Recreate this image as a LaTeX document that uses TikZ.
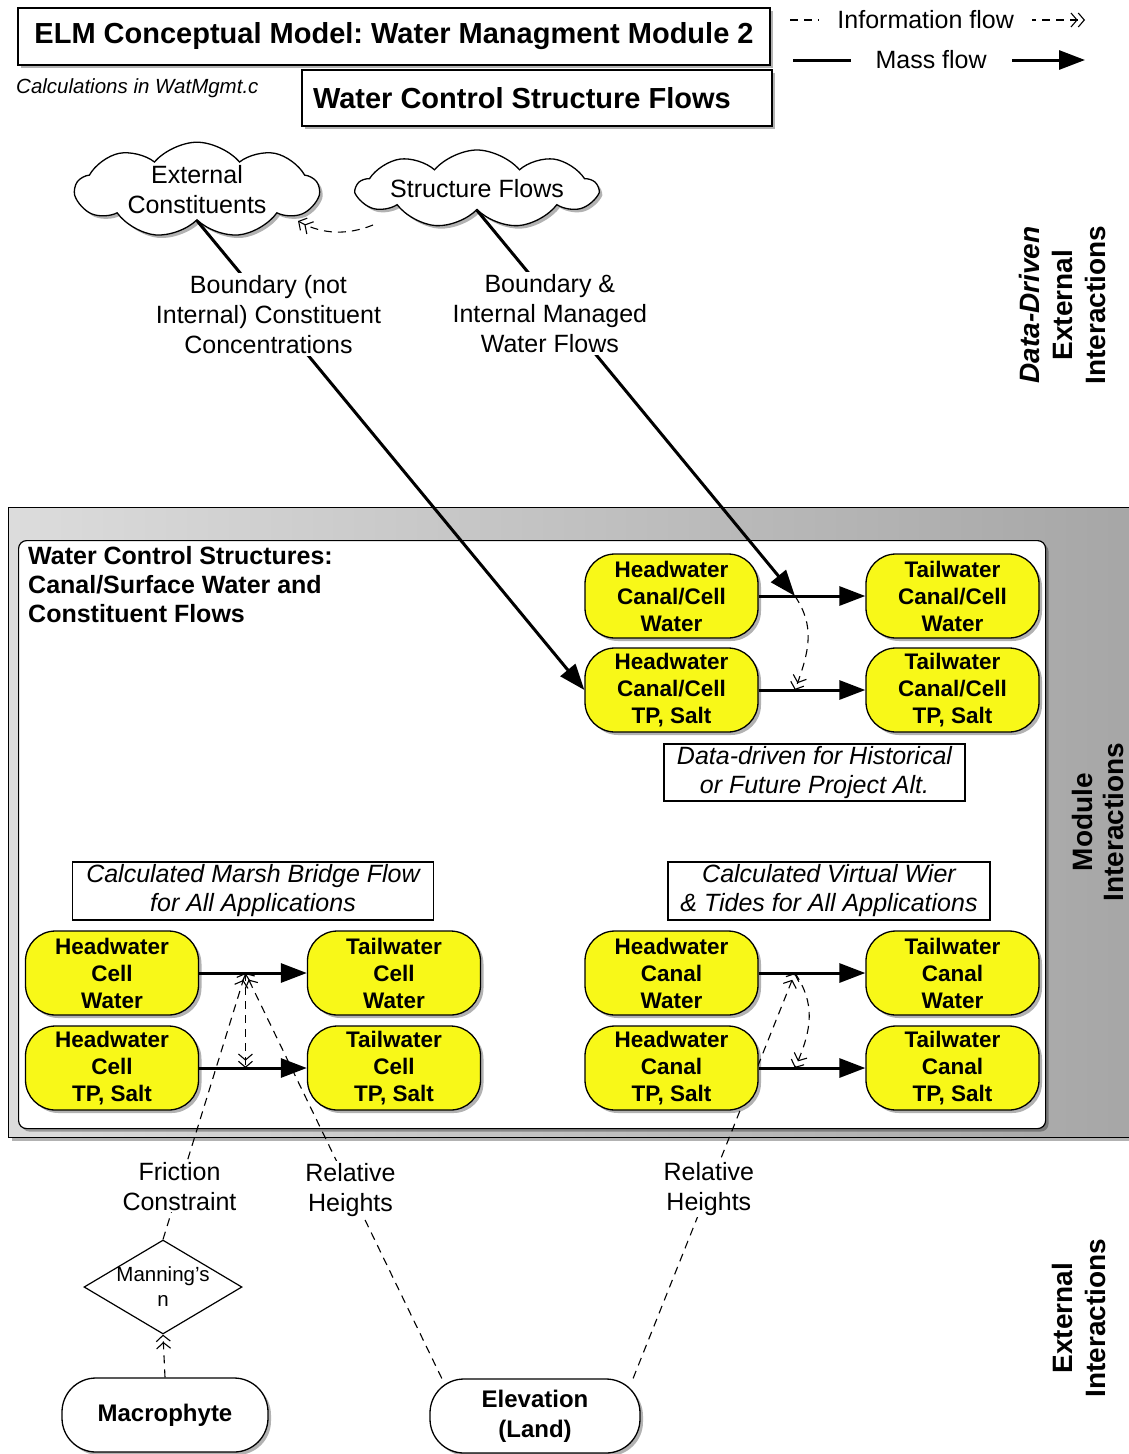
\documentclass[tikz,border=0pt]{standalone}
\usepackage{fontspec}
\setmainfont{Liberation Sans}
\usetikzlibrary{arrows.meta,shapes.geometric,shapes.symbols,shadows}
\pgfdeclarelayer{bg}
\pgfdeclarelayer{lines}
\pgfsetlayers{bg,lines,main}
\definecolor{nodeyellow}{RGB}{248,248,24}
\definecolor{modleft}{RGB}{220,220,220}
\definecolor{modright}{RGB}{166,166,166}
\frenchspacing
\begin{document}
\begin{tikzpicture}[x=1pt,y=-1pt,
  shadowed/.style={drop shadow={shadow xshift=3pt,shadow yshift=-3pt,opacity=0.3,fill=black}},
  box/.style={draw,line width=1.5,fill=white,inner sep=0,shadowed},
  yel/.style={draw,line width=1.3,fill=nodeyellow,rounded corners=30,minimum width=173,minimum height=84,
    align=center,inner sep=0,font=\bfseries\fontsize{22.5}{27}\selectfont,shadowed},
  ibox/.style={draw,line width=1.3,fill=white,align=center,inner sep=0,font=\itshape\fontsize{25}{29}\selectfont},
  cloudst/.style={cloud,cloud puffs=9,cloud puff arc=100,cloud ignores aspect,draw,line width=1.3,fill=white,
    align=center,inner sep=0,font=\fontsize{25}{30}\selectfont,shadowed},
  lbl/.style={fill=white,align=center,inner sep=2,font=\fontsize{25}{30}\selectfont},
  rlab/.style={rotate=90,align=center,font=\bfseries\fontsize{28}{33}\selectfont},
  term/.style={draw,line width=1.3,fill=white,rounded corners=34,minimum height=74,align=center,
    font=\bfseries\fontsize{24}{30}\selectfont,shadowed},
  mass/.style={line width=3,-{Triangle[length=26pt,width=19pt]}},
  info/.style={line width=1.1,dash pattern=on 8pt off 6pt,-{Straight Barb[length=6pt,width=14pt]Straight Barb[length=6pt,width=14pt]}},
]
\useasboundingbox (0,0) rectangle (1129,1454);

% ---------- module frame ----------
\begin{pgfonlayer}{bg}
\node[draw,line width=1.3,left color=modleft,right color=modright,minimum width=1130,minimum height=630,
  anchor=north west,inner sep=0,shadowed] (module) at (8,507) {};
\node[draw,line width=1.2,fill=white,rounded corners=8,minimum width=1027,minimum height=588,
  anchor=north west,inner sep=0,shadowed] (inner) at (18,540) {};
\end{pgfonlayer}

% ---------- header ----------
\node[box,minimum width=752,minimum height=57,font=\bfseries\fontsize{29}{34}\selectfont] (title) at (394,36.5)
  {ELM Conceptual Model: Water Managment Module 2};
\node[anchor=west,inner sep=0,font=\itshape\fontsize{20.5}{24}\selectfont] (calc) at (16,88) {Calculations in WatMgmt.c};
\node[box,minimum width=470,minimum height=56,font=\bfseries\fontsize{29}{34}\selectfont] (sub) at (537,98)
  {\makebox[448pt][l]{Water Control Structure Flows}};

% legend
\coordinate (li1) at (790,20);
\coordinate (li2) at (1085,20);
\coordinate (lm1) at (793,60);
\coordinate (lm2) at (1085,60);
\draw[info] (li1) -- node[pos=0.46,fill=white,inner xsep=18,inner ysep=2,font=\fontsize{25}{30}\selectfont] (litxt) {Information flow} (li2);
\draw[mass] (lm1) -- node[pos=0.473,fill=white,inner xsep=25,inner ysep=2,font=\fontsize{25}{30}\selectfont] (lmtxt) {Mass flow} (lm2);

% clouds
\node[cloudst,minimum width=243,minimum height=84] (ec) at (197,190) {External\\Constituents};
\node[cloudst,minimum width=240,minimum height=78] (sf) at (477,189) {Structure Flows};

% right side labels
\node[rlab] (ddlab) at (1062,305) {\textit{Data-Driven}\\External\\Interactions};
\node[rlab,font=\bfseries\fontsize{28}{31}\selectfont] (modlab) at (1098,822) {Module\\Interactions};
\node[rlab] (extlab) at (1079,1318) {External\\Interactions};

% inner heading
\node[anchor=west,align=left,inner sep=0,font=\bfseries\fontsize{25}{29}\selectfont] (wcs) at (28,585)
  {Water Control Structures:\\Canal/Surface Water and\\Constituent Flows};

% top-right group
\node[yel] (hw1) at (671.5,596) {Headwater\\Canal/Cell\\Water};
\node[yel] (tw1) at (952.5,596) {Tailwater\\Canal/Cell\\Water};
\node[yel] (hw2) at (671.5,690) {Headwater\\Canal/Cell\\TP, Salt};
\node[yel] (tw2) at (952.5,690) {Tailwater\\Canal/Cell\\TP, Salt};
\node[ibox,minimum width=301,minimum height=57] (dd) at (814.5,772.5) {Data-driven for Historical\\or Future Project Alt.};

% marsh group
\node[ibox,minimum width=361,minimum height=58] (mbf) at (253,891) {Calculated Marsh Bridge Flow\\for All Applications};
\node[yel] (mhw1) at (112,973) {Headwater\\Cell\\Water};
\node[yel] (mtw1) at (394,973) {Tailwater\\Cell\\Water};
\node[yel] (mhw2) at (112,1068) {Headwater\\Cell\\TP, Salt};
\node[yel] (mtw2) at (394,1068) {Tailwater\\Cell\\TP, Salt};

% canal group
\node[ibox,minimum width=322,minimum height=58] (vw) at (829,891) {Calculated Virtual Wier\\\& Tides for All Applications};
\node[yel] (chw1) at (671.5,973) {Headwater\\Canal\\Water};
\node[yel] (ctw1) at (952.5,973) {Tailwater\\Canal\\Water};
\node[yel] (chw2) at (671.5,1068) {Headwater\\Canal\\TP, Salt};
\node[yel] (ctw2) at (952.5,1068) {Tailwater\\Canal\\TP, Salt};

% external bottom
\node[diamond,draw,line width=1.2,fill=white,minimum width=158,minimum height=94,inner sep=0,
  label={[align=center,font=\fontsize{20.5}{25}\selectfont]center:Manning's\\n}] (mann) at (163,1287) {};
\node[term,minimum width=206] (macro) at (165,1415) {Macrophyte};
\node[term,minimum width=210] (elev) at (535,1416) {Elevation\\(Land)};

% ---------- connectors ----------
\begin{pgfonlayer}{lines}
\draw[mass] (hw1) -- coordinate[pos=0.34] (p1) (tw1);
\draw[mass] (hw2) -- coordinate[pos=0.34] (p2) (tw2);
\draw[info] (p1) .. controls +(20,30) and +(15,-40) .. (p2);

\draw[mass] (ec.south) -- node[lbl,pos=0.2,xshift=-6pt] (lb1) {Boundary (not\\Internal) Constituent\\Concentrations} (hw2.west);
\draw[mass] (sf.south) -- node[lbl,pos=0.267,xshift=-12pt] (lb2) {Boundary \&\\Internal Managed\\Water Flows} (p1);
\draw[info] ([xshift=-104pt,yshift=-36pt]sf.center) .. controls +(-25,10) and +(25,14) .. ([xshift=101pt,yshift=-31pt]ec.center);

\draw[mass] (mhw1) -- coordinate[pos=0.43] (q1) (mtw1);
\draw[mass] (mhw2) -- coordinate[pos=0.43] (q2) (mtw2);
\draw[info] (q1) -- (q2);
\draw[info] (mann.north) -- node[lbl,pos=0.2] (fc) {Friction\\Constraint} (q1);
\draw[info] (elev.158) -- node[lbl,pos=0.465] (rh1) {Relative\\Heights} (q1);

\draw[mass] (chw1) -- coordinate[pos=0.34] (r1) (ctw1);
\draw[mass] (chw2) -- coordinate[pos=0.34] (r2) (ctw2);
\draw[info] (r1) .. controls +(20,30) and +(18,-40) .. (r2);
\draw[info] (elev.21) -- node[lbl,pos=0.468] (rh2) {Relative\\Heights} (r1);

\draw[info] (macro.north) -- (mann.south);
\end{pgfonlayer}
\end{tikzpicture}
\end{document}
